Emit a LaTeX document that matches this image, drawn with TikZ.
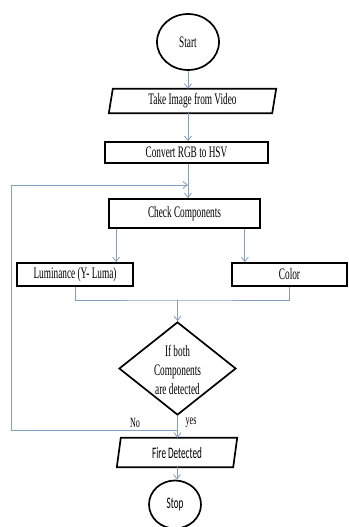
\documentclass[tikz,border=0pt]{standalone}
\usepackage{fontspec}
\usetikzlibrary{arrows.meta,shapes.geometric}
\newfontfamily\timesc[FakeStretch=0.58]{Liberation Serif}
\newfontfamily\calibc[FakeStretch=0.57]{Carlito}
\definecolor{conncol}{RGB}{132,158,196}
\tikzset{
  box/.style={draw=black, line width=1.7pt},
  txt/.style={inner sep=0pt, align=center, font=\timesc\fontsize{16}{19}\selectfont},
  stxt/.style={inner sep=0pt, align=center, font=\calibc\fontsize{16}{19}\selectfont},
  conn/.style={draw=conncol, line width=1pt, -{Straight Barb[length=4.5pt,width=7pt,line width=0.8pt]}},
  plain/.style={draw=conncol, line width=1pt},
  lbl/.style={inner sep=0pt, font=\timesc\fontsize{14}{15}\selectfont}
}
\begin{document}
\begin{tikzpicture}[x=1pt,y=-1pt]
\useasboundingbox (0,0) rectangle (348,527);
\fill[white] (0,0) rectangle (348,527);
% nodes
\node[txt, box, ellipse, minimum width=62, minimum height=56] (start) at (188,42) {Start};
\node[txt, minimum width=163, minimum height=24] (take) at (192.5,101) {Take Image from Video};
\draw[box] ([xshift=2pt]take.north west) -- ([xshift=2pt]take.north east) -- ([xshift=-2pt]take.south east) -- ([xshift=-2pt]take.south west) -- cycle;
\node[txt, box, rectangle, minimum width=163, minimum height=21] (convert) at (186.5,152.5) {Convert RGB to HSV};
\node[txt, box, rectangle, minimum width=151, minimum height=29] (check) at (184.5,213.5) {Check Components};
\node[txt, box, rectangle, minimum width=116, minimum height=23] (lum) at (75,274.5) {Luminance (Y- Luma)};
\node[txt, box, rectangle, minimum width=115, minimum height=23] (color) at (289.5,274.5) {Color};
\node[box, diamond, inner sep=0pt, minimum width=117, minimum height=93] (dia) at (177.5,368.5) {};
\node[txt] (diatxt) at (177.5,370) {If both\\Components\\are detected};
\node[stxt, minimum width=116, minimum height=29] (fire) at (177,452.5) {Fire Detected};
\draw[box] ([xshift=2pt]fire.north west) -- ([xshift=2pt]fire.north east) -- ([xshift=-2pt]fire.south east) -- ([xshift=-2pt]fire.south west) -- cycle;
\node[stxt, box, ellipse, minimum width=52, minimum height=48] (stop) at (175,504.5) {Stop};
% labels
\node[lbl] (no) at (135,423) {No};
\node[lbl] (yes) at (191,423) {yes};
% coordinates
\coordinate (mj) at (177.5,300);
\coordinate (nj) at (177.5,430);
\coordinate (nl) at (11,430);
\coordinate (fb) at (188,185);
% connectors
\draw[conn] (start.south) -- (start.south |- take.north);
\draw[conn] (take.south -| start.south) -- (convert.north -| start.south);
\draw[conn] (convert.south -| start.south) -- (check.north -| start.south);
\draw[conn] ([xshift=8pt]check.south west) -- ([xshift=8pt]check.south west |- lum.north);
\draw[conn] ([xshift=-16pt]check.south east) -- ([xshift=-16pt]check.south east |- color.north);
\draw[plain] (lum.south) |- (mj) -| (color.south);
\draw[conn] (mj) -- (dia.north);
\draw[conn] (dia.south) -- (dia.south |- fire.north);
\draw[conn] (nj) -- (nl) |- (fb);
\draw[conn] (fire.south) -- (fire.south |- stop.north);
\end{tikzpicture}
\end{document}
